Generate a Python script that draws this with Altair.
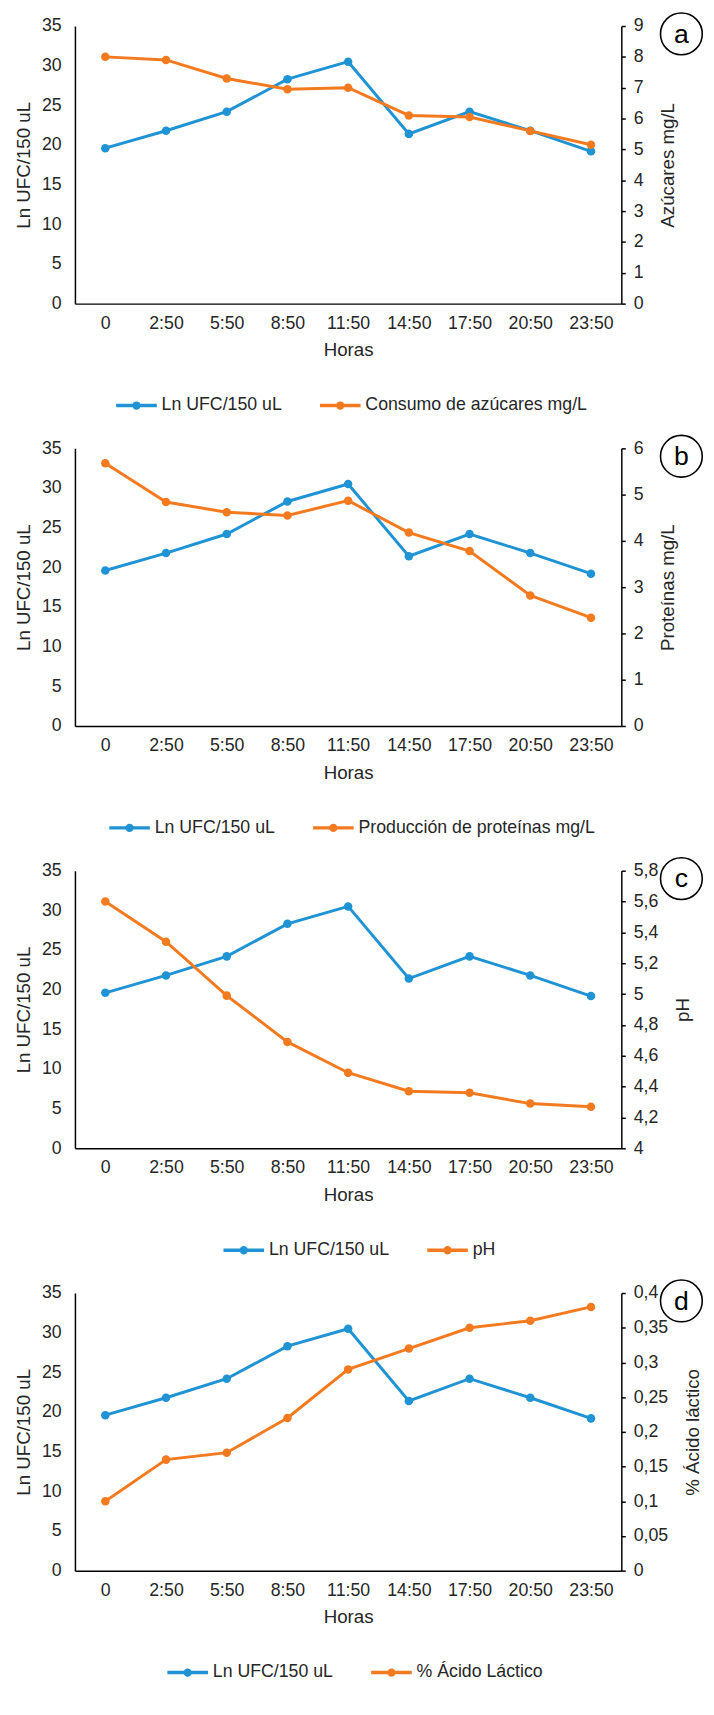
import altair as alt
import pandas as pd

# ---------------- data ----------------
horas = ["0", "2:50", "5:50", "8:50", "11:50", "14:50", "17:50", "20:50", "23:50"]
ln_ufc = [19.6, 21.8, 24.2, 28.3, 30.5, 21.4, 24.2, 21.8, 19.2]
azucares = [8.0, 7.9, 7.3, 6.95, 7.0, 6.1, 6.05, 5.6, 5.15]
proteinas = [5.68, 4.84, 4.62, 4.55, 4.87, 4.18, 3.78, 2.82, 2.34]
ph = [5.6, 5.34, 4.99, 4.69, 4.49, 4.37, 4.36, 4.29, 4.27]
acido = [0.10, 0.16, 0.17, 0.22, 0.29, 0.32, 0.35, 0.36, 0.38]

left_ticks = [0, 5, 10, 15, 20, 25, 30, 35]
ticks_a = [0, 1, 2, 3, 4, 5, 6, 7, 8, 9]
ticks_b = [0, 1, 2, 3, 4, 5, 6]
ticks_c = [4, 4.2, 4.4, 4.6, 4.8, 5, 5.2, 5.4, 5.6, 5.8]
ticks_d = [0, 0.05, 0.1, 0.15, 0.2, 0.25, 0.3, 0.35, 0.4]

serie1 = "Ln UFC/150 uL"
BLUE = "#1f93d3"
ORANGE = "#f47a20"
FONT = "Liberation Sans"
TXT = "#262626"

W, H = 555, 282

LEG_SYMBOL = "M-1,0L1,0M0.12,0A0.12,0.12,0,1,1,-0.12,0A0.12,0.12,0,1,1,0.12,0"


def panel(letter, serie2, vals2, ytitle2, ticks2, legend_x):
    df1 = pd.DataFrame({"hora": horas, "valor": ln_ufc, "serie": serie1})
    df2 = pd.DataFrame({"hora": horas, "valor": vals2, "serie": serie2})

    x = alt.X("hora:O", sort=horas, title="Horas",
              scale=alt.Scale(type="point", padding=0.5),
              axis=alt.Axis(labelAngle=0, ticks=False, tickSize=0, labelPadding=11,
                            titlePadding=9, domainColor="black", domainWidth=1.5,
                            grid=False))
    color = alt.Color("serie:N",
                      scale=alt.Scale(domain=[serie1, serie2], range=[BLUE, ORANGE]),
                      legend=alt.Legend(orient="none", legendX=legend_x, legendY=363,
                                        direction="horizontal", title=None,
                                        symbolType=LEG_SYMBOL, symbolSize=1700,
                                        symbolStrokeWidth=3.5, labelOffset=3,
                                        columnPadding=30, labelFontSize=18,
                                        labelLimit=0,
                                        labelFont=FONT, labelColor=TXT, padding=0))

    y1 = alt.Y("valor:Q", title="Ln UFC/150 uL",
               scale=alt.Scale(domain=[0, 35], nice=False),
               axis=alt.Axis(values=left_ticks, ticks=False, labelPadding=14,
                             titlePadding=8, domainColor="black", domainWidth=1.5,
                             grid=False))
    y2 = alt.Y("valor:Q", title=ytitle2,
               scale=alt.Scale(domain=[ticks2[0], ticks2[-1]], nice=False, zero=False),
               axis=alt.Axis(orient="right", values=ticks2,
                             labelExpr="replace(format(datum.value, '~g'), '.', ',')",
                             ticks=True, tickSize=4, tickColor="black", tickWidth=1.5,
                             labelPadding=8, titlePadding=16, titleAngle=270,
                             titleBaseline="top", domainColor="black",
                             domainWidth=1.5, grid=False))

    b1 = alt.Chart(df1).encode(x=x, y=y1, color=color)
    l1 = b1.mark_line(strokeWidth=3) + b1.mark_point(filled=True, size=75, opacity=1)
    b2 = alt.Chart(df2).encode(x=x, y=y2, color=color)
    l2 = b2.mark_line(strokeWidth=3) + b2.mark_point(filled=True, size=75, opacity=1)

    ann_df = pd.DataFrame({"t": [letter]})
    circ = alt.Chart(ann_df).mark_point(shape="circle", size=1800, filled=False,
                                        stroke="black", strokeWidth=1.6, opacity=1).encode(
        x=alt.value(616), y=alt.value(8))
    txt = alt.Chart(ann_df).mark_text(fontSize=27, font=FONT, color="black",
                                      baseline="middle", align="center").encode(
        x=alt.value(616), y=alt.value(9), text="t:N")

    return alt.layer(l1, l2, circ, txt).resolve_scale(y="independent").properties(
        width=W, height=H)


pa = panel("a", "Consumo de azúcares mg/L", azucares, "Azúcares mg/L", ticks_a, 40)
pb = panel("b", "Producción de proteínas mg/L", proteinas, "Proteínas  mg/L", ticks_b, 33)
pc = panel("c", "pH", ph, "pH", ticks_c, 149)
pd_ = panel("d", "% Ácido Láctico", acido, "% Ácido láctico", ticks_d, 92)

chart = alt.vconcat(pa, pb, pc, pd_, spacing=17).resolve_scale(
    color="independent").resolve_legend(color="independent").properties(
    padding={"left": 6, "top": -12, "right": 0, "bottom": 0}
).configure_view(stroke=None).configure_axis(
    labelFont=FONT, labelFontSize=18, labelColor=TXT,
    titleFont=FONT, titleFontSize=19, titleColor=TXT, titleFontWeight="normal"
).configure_legend(labelFont=FONT)

chart.save("out.html", embed_options={"renderer": "svg", "actions": False})
